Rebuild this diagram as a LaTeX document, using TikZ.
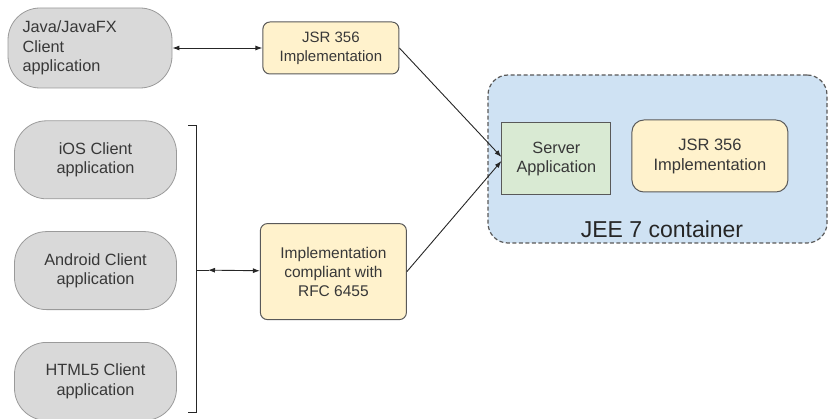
\documentclass[tikz,border=0pt]{standalone}
\usepackage{fontspec}
\setmainfont{Liberation Sans}
\usetikzlibrary{arrows.meta,positioning}
\definecolor{wsgray}{HTML}{D9D9D9}
\definecolor{wsedge}{HTML}{9A9A9A}
\definecolor{wsline}{HTML}{595959}
\definecolor{wsyellow}{HTML}{FFF2CC}
\definecolor{wsgreen}{HTML}{D9EAD3}
\definecolor{wsblue}{HTML}{CFE2F3}
\definecolor{wstext}{HTML}{383838}
\tikzset{
  client/.style={rounded corners=32pt,draw=wsedge,fill=wsgray,align=center,text=wstext,font=\fontsize{16.3}{19.5}\selectfont,minimum width=162pt,minimum height=78pt,inner sep=2pt,line width=0.8pt},
  impl/.style={rounded corners=7pt,draw=wsline,fill=wsyellow,align=center,text=wstext,font=\fontsize{15}{19}\selectfont,inner sep=2pt,line width=1pt},
  srvbox/.style={draw=wsline,fill=wsgreen,align=center,text=wstext,font=\fontsize{16.3}{19.5}\selectfont,minimum width=109pt,minimum height=72pt,inner sep=2pt,line width=1pt},
  container/.style={rounded corners=20pt,draw=wsline,dash pattern=on 4pt off 2.5pt,fill=wsblue,minimum width=339pt,minimum height=168pt,line width=1.2pt},
  ln/.style={draw=black!85,line width=0.9pt},
  ar/.style={ln,-{Latex[length=7pt,width=5pt]}},
  ar2/.style={ln,{Latex[length=7pt,width=5pt]}-{Latex[length=7pt,width=5pt]}},
}
\begin{document}
\begin{tikzpicture}[x=1pt,y=-1pt]
  \useasboundingbox (0,0) rectangle (829,419);
  % clients
  \node[client,minimum width=164pt,minimum height=80pt,text width=135pt,align=left] (java) at (90,48) {Java/JavaFX\\Client\\application};
  \node[client,below=32pt of java,xshift=5.5pt] (ios) {iOS Client\\application};
  \node[client,below=32pt of ios] (android) {Android Client\\application};
  \node[client,below=32pt of android] (html) {HTML5 Client\\application};
  % bracket
  \coordinate (brtop) at (188,125);
  \coordinate (brbot) at (188,412);
  \coordinate (brmid) at (196,270);
  \draw[ln] (brtop) -- ++(8,0) |- (brbot);
  % implementations
  \node[impl,right=90pt of java,minimum width=136pt,minimum height=52pt] (jsr) {JSR 356\\Implementation};
  \node[impl,right=83pt of android,yshift=-1pt,minimum width=146pt,minimum height=96pt,font=\fontsize{15.5}{19}\selectfont] (rfc) {Implementation\\compliant with\\RFC 6455};
  % server side
  \node[container] (jee) at (657.5,159) {};
  \node[srvbox,right=14pt of jee.west] (srv) {Server\\Application};
  \node[impl,right=20pt of srv,yshift=3pt,minimum width=156pt,minimum height=72pt,rounded corners=12pt,font=\fontsize{16.5}{20}\selectfont] (jsrin) {JSR 356\\Implementation};
  \node[text=black!85,font=\fontsize{23}{26}\selectfont] (jeelbl) at (662,229) {JEE 7 container};
  % connectors
  \draw[ar2] (java) -- (jsr);
  \draw[ln] (brmid) -- ++(13,0);
  \draw[ar2,shorten <=12pt] (brmid) -- (rfc);
  \draw[ar] (jsr.east) -- ([yshift=2pt]srv.west);
  \draw[ar] (rfc.east) -- ([yshift=-2pt]srv.west);
\end{tikzpicture}
\end{document}
